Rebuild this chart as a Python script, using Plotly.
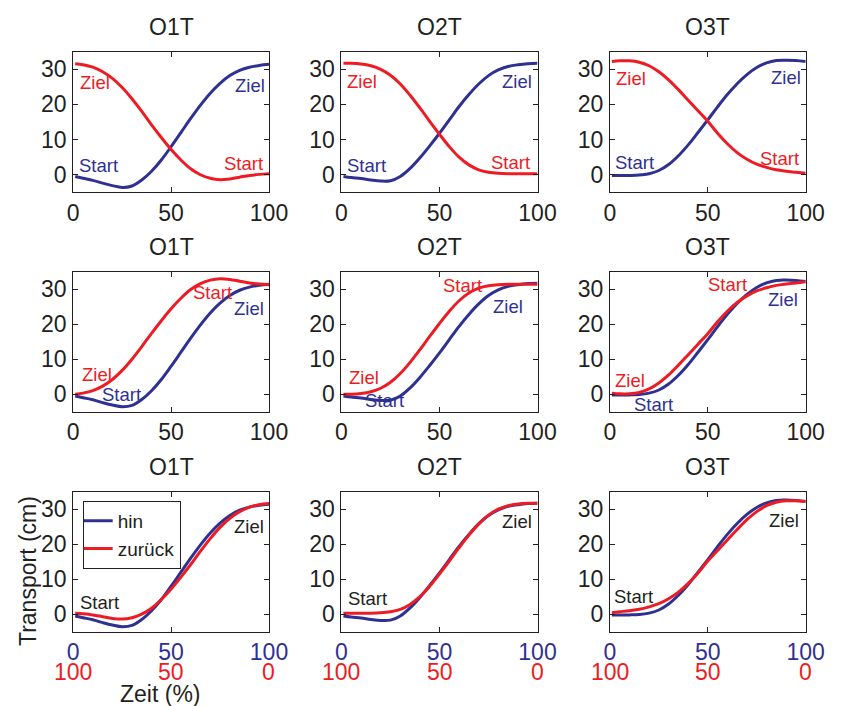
import plotly.graph_objects as go

# ---------------- data ----------------
x = [1, 5, 10, 15, 20, 25, 30, 35, 40, 45, 50, 55, 60, 65, 70, 75, 80, 85, 90, 95, 100]

titles = ["O1T", "O2T", "O3T"]

# blue ("hin") – identical in all three rows of a column
hin_o1 = [-0.5, -1.0, -1.6, -2.4, -3.1, -3.6, -3.2, -1.5, 1.0, 4.2, 8.0, 12.0, 16.0, 19.8, 23.2, 26.0, 28.2, 29.7, 30.6, 31.1, 31.4]
hin_o2 = [-0.5, -0.8, -1.1, -1.5, -1.8, -1.7, -0.5, 1.8, 4.8, 8.2, 11.8, 15.6, 19.4, 22.8, 25.8, 28.2, 29.8, 30.8, 31.3, 31.6, 31.7]
hin_o3 = [-0.2, -0.2, -0.2, -0.1, 0.3, 1.2, 2.9, 5.4, 8.5, 12.0, 15.6, 19.3, 22.8, 25.9, 28.5, 30.5, 31.8, 32.5, 32.6, 32.5, 32.2]

# red ("zurück"), row 1: raw position
back_r1_o1 = [31.6, 31.3, 30.6, 29.3, 27.4, 24.8, 21.6, 18.0, 14.2, 10.6, 7.2, 4.2, 1.7, 0.0, -1.0, -1.4, -1.2, -0.7, -0.2, 0.1, 0.3]
back_r1_o2 = [31.7, 31.7, 31.5, 31.0, 30.0, 28.3, 25.8, 22.6, 19.0, 15.2, 11.5, 8.0, 5.0, 2.8, 1.4, 0.7, 0.4, 0.3, 0.3, 0.3, 0.3]
back_r1_o3 = [32.2, 32.4, 32.4, 32.0, 31.0, 29.3, 27.0, 24.2, 21.2, 18.2, 15.2, 11.8, 8.8, 6.3, 4.4, 3.0, 2.1, 1.4, 1.0, 0.7, 0.4]

# red, row 2: position mirrored
back_r2_o1 = [0.0, 0.3, 1.0, 2.3, 4.2, 6.8, 10.0, 13.6, 17.4, 21.0, 24.4, 27.4, 29.9, 31.6, 32.6, 33.0, 32.8, 32.3, 31.8, 31.5, 31.3]
back_r2_o2 = [0.0, 0.0, 0.2, 0.7, 1.7, 3.4, 5.9, 9.1, 12.7, 16.5, 20.2, 23.7, 26.7, 28.9, 30.3, 31.0, 31.3, 31.4, 31.4, 31.4, 31.4]
back_r2_o3 = [0.3, 0.1, 0.1, 0.5, 1.5, 3.2, 5.5, 8.3, 11.3, 14.3, 17.3, 20.7, 23.7, 26.2, 28.1, 29.5, 30.4, 31.1, 31.5, 31.8, 32.1]

# red, row 3: time reversed
back_r3_o1 = [0.25, 0.1, -0.2, -0.7, -1.2, -1.4, -1.0, 0.0, 1.7, 4.2, 7.2, 10.6, 14.2, 18.0, 21.6, 24.8, 27.4, 29.3, 30.6, 31.3, 31.6]
back_r3_o2 = [0.3, 0.3, 0.3, 0.3, 0.4, 0.7, 1.4, 2.8, 5.0, 8.0, 11.5, 15.2, 19.0, 22.6, 25.8, 28.3, 30.0, 31.0, 31.5, 31.7, 31.7]
back_r3_o3 = [0.45, 0.7, 1.0, 1.4, 2.1, 3.0, 4.4, 6.3, 8.8, 11.8, 15.2, 18.2, 21.2, 24.2, 27.0, 29.3, 31.0, 32.0, 32.4, 32.4, 32.2]

hin = [hin_o1, hin_o2, hin_o3]
back = [[back_r1_o1, back_r1_o2, back_r1_o3],
        [back_r2_o1, back_r2_o2, back_r2_o3],
        [back_r3_o1, back_r3_o2, back_r3_o3]]

xtick_vals = [0, 50, 100]
xtick_text_hin = ["0", "50", "100"]
xtick_text_back = ["100", "50", "0"]
ytick_vals = [0, 10, 20, 30]

# labels: (row, col, text, x, y, color, anchor)
labels = [
    (0, 0, "Ziel", 2.5, 26.1, "red", "left"), (0, 0, "Ziel", 99, 25.5, "blue", "right"),
    (0, 0, "Start", 2, 2.5, "blue", "left"), (0, 0, "Start", 98, 3.3, "red", "right"),
    (0, 1, "Ziel", 2, 26.6, "red", "left"), (0, 1, "Ziel", 98, 26.4, "blue", "right"),
    (0, 1, "Start", 1.8, 2.7, "blue", "left"), (0, 1, "Start", 97, 3.6, "red", "right"),
    (0, 2, "Ziel", 2, 27.5, "red", "left"), (0, 2, "Ziel", 98.5, 27.7, "blue", "right"),
    (0, 2, "Start", 1.6, 3.4, "blue", "left"), (0, 2, "Start", 97.5, 4.6, "red", "right"),
    (1, 0, "Ziel", 3.3, 5.7, "red", "left"), (1, 0, "Start", 13.6, -0.2, "blue", "left"),
    (1, 0, "Start", 60.2, 29.1, "red", "left"), (1, 0, "Ziel", 81.3, 24.5, "blue", "left"),
    (1, 1, "Ziel", 3, 4.7, "red", "left"), (1, 1, "Start", 11.2, -1.9, "blue", "left"),
    (1, 1, "Start", 50.8, 31.1, "red", "left"), (1, 1, "Ziel", 76.4, 25.2, "blue", "left"),
    (1, 2, "Ziel", 1.7, 3.8, "red", "left"), (1, 2, "Start", 11.2, -2.8, "blue", "left"),
    (1, 2, "Start", 48.9, 31.3, "red", "left"), (1, 2, "Ziel", 79.8, 27.2, "blue", "left"),
    (2, 0, "Start", 2.3, 3.3, "black", "left"), (2, 0, "Ziel", 81.3, 25.0, "black", "left"),
    (2, 1, "Start", 2.5, 4.6, "black", "left"), (2, 1, "Ziel", 81, 26.6, "black", "left"),
    (2, 2, "Start", 1.3, 5.0, "black", "left"), (2, 2, "Ziel", 80, 26.9, "black", "left"),
]

# ---------------- style ----------------
BLUE = "#2E3192"
RED = "#ED1C24"
BLACK = "#231F20"
FONT = "Arial, Liberation Sans, Helvetica, sans-serif"
cmap = {"red": RED, "blue": BLUE, "black": BLACK}
TICK = 23
LAB = 18.5

W, H = 846, 706
col_px = [(69.3, 271.0), (345.7, 547.7), (622.3, 824.0)]
row_px = [(51.7, 192.3), (271.7, 411.7), (491.7, 631.7)]

fig = go.Figure()
layout = dict(
    width=W, height=H, margin=dict(l=0, r=0, t=0, b=0),
    paper_bgcolor="white", plot_bgcolor="white",
    font=dict(family=FONT, color=BLACK, size=TICK),
    showlegend=True,
    legend=dict(x=79 / W, y=1 - 501 / H, xanchor="left", yanchor="top",
                bordercolor=BLACK, borderwidth=1, bgcolor="white",
                font=dict(size=19, family=FONT, color=BLACK),
                tracegroupgap=0, itemwidth=30, indentation=-6),
)
annotations = []

for r in range(3):
    for c in range(3):
        idx = r * 3 + c + 1
        xa = "x" if idx == 1 else f"x{idx}"
        ya = "y" if idx == 1 else f"y{idx}"
        xk = "xaxis" if idx == 1 else f"xaxis{idx}"
        yk = "yaxis" if idx == 1 else f"yaxis{idx}"
        x0, x1 = col_px[c]
        t0, t1 = row_px[r]
        bottom = (r == 2)
        layout[xk] = dict(
            domain=[x0 / W, x1 / W], anchor=ya, range=[0, 100],
            tickvals=xtick_vals, ticktext=xtick_text_hin,
            ticks="inside", ticklen=5, tickcolor=BLACK, mirror="ticks",
            showline=True, linecolor=BLACK, linewidth=1, showgrid=False, zeroline=False,
            tickfont=dict(size=TICK, color=BLUE if bottom else BLACK, family=FONT),
            ticklabelstandoff=0,
        )
        layout[yk] = dict(
            domain=[1 - t1 / H, 1 - t0 / H], anchor=xa, range=[-5, 35],
            tickvals=ytick_vals,
            ticks="inside", ticklen=5, tickcolor=BLACK, mirror="ticks",
            showline=True, linecolor=BLACK, linewidth=1, showgrid=False, zeroline=False,
            tickfont=dict(size=TICK, color=BLACK, family=FONT),
            ticklabelstandoff=1,
        )
        show = (r == 2 and c == 0)
        fig.add_trace(go.Scatter(x=x, y=hin[c], mode="lines", name="hin",
                                 line=dict(color=BLUE, width=3, shape="spline"),
                                 xaxis=xa, yaxis=ya, showlegend=show))
        fig.add_trace(go.Scatter(x=x, y=back[r][c], mode="lines", name="zurück",
                                 line=dict(color=RED, width=3, shape="spline"),
                                 xaxis=xa, yaxis=ya, showlegend=show))
        # subplot title
        title_y = [27, 247, 467][r]
        annotations.append(dict(text=titles[c], x=(x0 + x1) / 2 / W, y=1 - title_y / H,
                                xref="paper", yref="paper", showarrow=False,
                                xanchor="center", yanchor="middle",
                                font=dict(size=TICK, color=BLACK, family=FONT)))
        if bottom:
            for v, t in zip(xtick_vals, xtick_text_back):
                annotations.append(dict(text=t, x=v, y=1 - 672 / H, xref=xa, yref="paper",
                                        showarrow=False, xanchor="center", yanchor="middle",
                                        font=dict(size=TICK, color=RED, family=FONT)))

for (r, c, t, lx, ly, col, anc) in labels:
    idx = r * 3 + c + 1
    xa = "x" if idx == 1 else f"x{idx}"
    ya = "y" if idx == 1 else f"y{idx}"
    annotations.append(dict(text=t, x=lx, y=ly, xref=xa, yref=ya, showarrow=False,
                            xanchor=anc, yanchor="middle",
                            font=dict(size=LAB, color=cmap[col], family=FONT)))

annotations.append(dict(text="Transport (cm)", x=22.7 / W, y=1 - 571 / H, xref="paper", yref="paper",
                        showarrow=False, textangle=-90, xanchor="center", yanchor="middle",
                        font=dict(size=TICK, color=BLACK, family=FONT)))
annotations.append(dict(text="Zeit (%)", x=159 / W, y=1 - 694 / H, xref="paper", yref="paper",
                        showarrow=False, xanchor="center", yanchor="middle",
                        font=dict(size=TICK, color=BLACK, family=FONT)))

layout["annotations"] = annotations
fig.update_layout(**layout)
fig.write_html("out.html")
